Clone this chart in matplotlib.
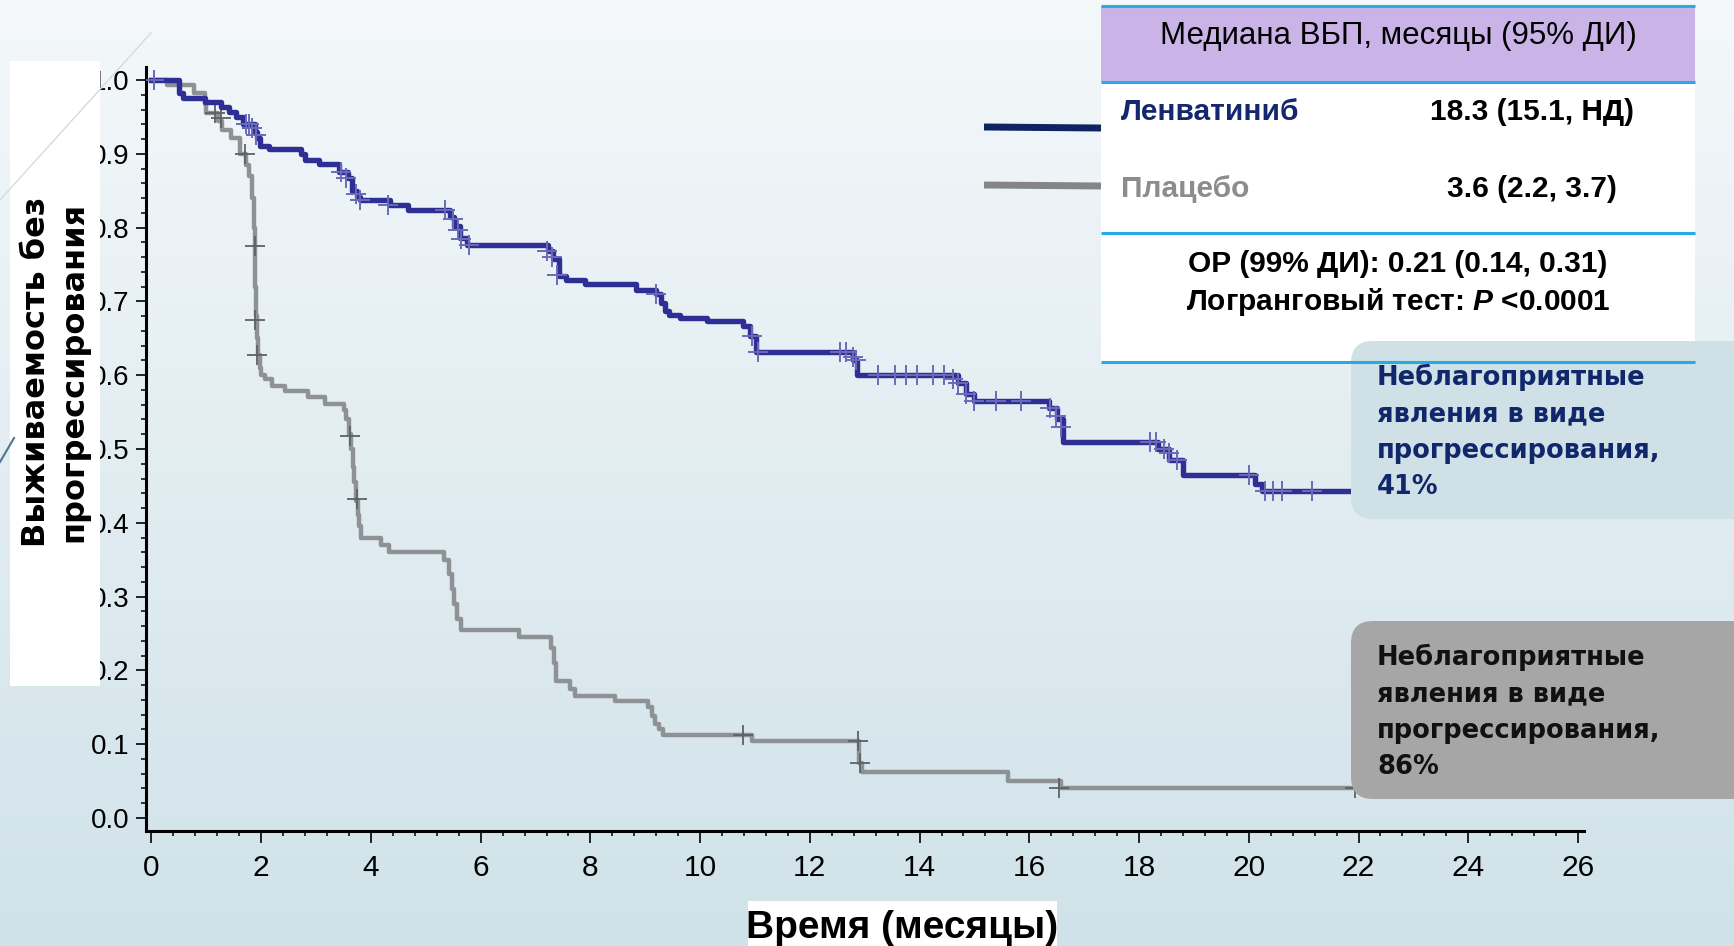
import matplotlib
matplotlib.use("Agg")
import matplotlib.pyplot as plt
import numpy as np
from matplotlib import font_manager
from matplotlib.patches import Rectangle, FancyBboxPatch
from matplotlib.ticker import MultipleLocator

# Kaplan-Meier steps (months, survival)
lenv_t = [0, 0.50, 0.58, 0.97, 1.26, 1.42, 1.54, 1.67, 1.88, 1.93, 1.97, 2.15, 2.72, 2.80,
          3.05, 3.42, 3.58, 3.66, 3.75, 3.80, 4.35, 4.68, 5.45, 5.52, 5.62, 5.75, 7.22,
          7.32, 7.42, 7.55, 7.90, 8.83, 9.20, 9.28, 9.36, 9.44, 9.64, 10.13, 10.78, 10.90,
          11.02, 12.78, 12.86, 14.70, 14.85, 15.00, 16.35, 16.50, 16.62, 18.35, 18.55,
          18.80, 20.12, 20.25, 22.40]
lenv_s = [1.0, 0.982, 0.975, 0.970, 0.964, 0.957, 0.950, 0.940, 0.930, 0.921, 0.910, 0.906,
          0.900, 0.892, 0.886, 0.876, 0.867, 0.850, 0.842, 0.837, 0.831, 0.824, 0.815,
          0.802, 0.786, 0.777, 0.768, 0.757, 0.734, 0.729, 0.724, 0.716, 0.710, 0.698,
          0.687, 0.682, 0.678, 0.673, 0.667, 0.653, 0.631, 0.620, 0.600, 0.590, 0.575,
          0.565, 0.555, 0.540, 0.510, 0.500, 0.485, 0.465, 0.452, 0.443, 0.443]

plac_t = [0, 0.28, 0.77, 0.97, 1.00, 1.22, 1.28, 1.45, 1.62, 1.72, 1.78, 1.83, 1.86, 1.88,
          1.895, 1.90, 1.92, 1.94, 1.97, 2.00, 2.07, 2.20, 2.44, 2.85, 3.17, 3.50, 3.55,
          3.60, 3.64, 3.67, 3.70, 3.73, 3.76, 3.78, 3.82, 4.19, 4.33, 5.34, 5.42, 5.47,
          5.52, 5.57, 5.65, 6.70, 7.28, 7.33, 7.38, 7.62, 7.72, 8.45, 9.05, 9.12, 9.18,
          9.25, 9.33, 10.95, 12.90, 12.95, 15.62, 16.58, 21.93]
plac_s = [1.0, 0.993, 0.982, 0.968, 0.955, 0.945, 0.932, 0.921, 0.900, 0.885, 0.870, 0.840,
          0.800, 0.760, 0.720, 0.680, 0.650, 0.627, 0.610, 0.600, 0.595, 0.586, 0.578,
          0.570, 0.561, 0.553, 0.540, 0.520, 0.500, 0.475, 0.455, 0.430, 0.410, 0.395,
          0.380, 0.370, 0.360, 0.350, 0.330, 0.310, 0.290, 0.270, 0.255, 0.245, 0.230,
          0.210, 0.185, 0.175, 0.165, 0.158, 0.150, 0.138, 0.128, 0.120, 0.112, 0.105,
          0.075, 0.062, 0.050, 0.040, 0.040]

# censored observations (+ marks)
lenv_cens_t = [0.04, 1.72, 1.78, 1.84, 1.90, 3.45, 3.55, 3.72, 3.80, 4.31, 5.35, 5.50, 5.58,
               5.65, 5.78, 7.20, 7.30, 7.40, 9.20, 10.95, 11.06, 12.55, 12.65, 12.78, 12.85,
               13.25, 13.55, 13.75, 13.95, 14.25, 14.45, 14.60, 14.70, 14.85, 15.00, 15.40,
               15.85, 16.38, 16.48, 16.58, 18.20, 18.30, 18.45, 18.55, 18.70, 20.00, 20.30,
               20.45, 20.60, 21.15]
lenv_cens_s = [1.0, 0.940, 0.940, 0.935, 0.925, 0.876, 0.867, 0.845, 0.837, 0.831, 0.824,
               0.812, 0.797, 0.785, 0.777, 0.768, 0.760, 0.736, 0.710, 0.653, 0.631, 0.631,
               0.631, 0.625, 0.620, 0.600, 0.600, 0.600, 0.600, 0.600, 0.600, 0.595, 0.590,
               0.575, 0.565, 0.565, 0.565, 0.555, 0.545, 0.530, 0.510, 0.510, 0.500, 0.495,
               0.485, 0.465, 0.443, 0.443, 0.443, 0.443]
plac_cens_t = [1.15, 1.26, 1.70, 1.88, 1.89, 1.93, 3.62, 3.74, 10.78, 12.88, 12.92, 16.55, 21.93]
plac_cens_s = [0.955, 0.948, 0.900, 0.775, 0.675, 0.627, 0.518, 0.432, 0.112, 0.105, 0.075,
               0.040, 0.040]

x_ticks = list(range(0, 27, 2))
y_ticks = [i / 10 for i in range(11)]
y_ticklabels = ["%.1f" % v for v in y_ticks]

table_header = "Медиана ВБП, месяцы (95% ДИ)"
arm_names = ["Ленватиниб", "Плацебо"]
arm_medians = ["18.3 (15.1, НД)", "3.6 (2.2, 3.7)"]
callout_lines = ["Неблагоприятные", "явления в виде", "прогрессирования,"]
callout_pcts = ["41%", "86%"]

BLUE = "#2e2f94"
BLUE_CENS = "#6a6ab8"
GRAY = "#8f9294"
GRAY_CENS = "#5e6166"

W, H = 1734, 946
names = {f.name for f in font_manager.fontManager.ttflist}
narrow = "Liberation Sans Narrow" if "Liberation Sans Narrow" in names else "Liberation Sans"

plt.rcParams["mathtext.fontset"] = "custom"
plt.rcParams["mathtext.it"] = "Liberation Sans:italic:bold"
plt.rcParams["mathtext.rm"] = "Liberation Sans:bold"

fig = plt.figure(figsize=(W / 100, H / 100), dpi=100)

# background gradient
bg = fig.add_axes([0, 0, 1, 1], zorder=-5)
grad = np.linspace(0, 1, 256)[:, None]
top_c = np.array([0xf4, 0xf8, 0xfa]) / 255
bot_c = np.array([0xd0, 0xe2, 0xe9]) / 255
img = top_c[None, None, :] * (1 - grad[..., None]) + bot_c[None, None, :] * grad[..., None]
bg.imshow(img, aspect="auto", extent=[0, 1, 0, 1])
bg.set_axis_off()

# main KM plot
ax = fig.add_axes([146 / W, 1 - 831 / H, (1584 - 146) / W, (831 - 67) / H])
ax.patch.set_alpha(0)
ax.step(plac_t, plac_s, where="post", color=GRAY, lw=3.2, zorder=2)
ax.plot(plac_cens_t, plac_cens_s, ls="none", marker="+", ms=15, mew=1.3, color=GRAY_CENS, zorder=3)
ax.step(lenv_t, lenv_s, where="post", color=BLUE, lw=3.9, zorder=4)
ax.plot(lenv_cens_t, lenv_cens_s, ls="none", marker="+", ms=15, mew=1.4, color=BLUE_CENS, zorder=5)

ax.set_xlim(-0.1, 26.11)
ax.set_ylim(-0.0176, 1.0176)
ax.set_xticks(x_ticks)
ax.set_yticks(y_ticks)
ax.set_yticklabels(y_ticklabels)
ax.xaxis.set_minor_locator(MultipleLocator(0.4))
ax.yaxis.set_minor_locator(MultipleLocator(0.02))
for s in ["top", "right"]:
    ax.spines[s].set_visible(False)
for s in ["left", "bottom"]:
    ax.spines[s].set_linewidth(2.2)
ax.tick_params(axis="y", which="major", length=7.5, width=1.2, pad=4.5, direction="out")
ax.tick_params(axis="x", which="major", length=8.5, width=1.2, pad=8, direction="out")
ax.tick_params(which="minor", length=3.8, width=1.1, direction="out")
for lab in ax.get_xticklabels():
    lab.set_fontfamily(narrow)
    lab.set_fontsize(21.5)
for lab in ax.get_yticklabels():
    lab.set_fontfamily(narrow)
    lab.set_fontsize(20)

# overlay in pixel coordinates for the slide decorations
ov = fig.add_axes([0, 0, 1, 1], zorder=10)
ov.set_xlim(0, W)
ov.set_ylim(H, 0)
ov.set_axis_off()
ov.patch.set_alpha(0)

ov.plot([151, 0], [33, 200], color="#d3dce1", lw=1)
ov.plot([0, 14], [462, 438], color="#4f7590", lw=1.5)

# y label on white panel (covers the left part of the tick labels, as in the slide)
ov.add_patch(Rectangle((10, 61), 90, 625, facecolor="white", edgecolor="none"))
ylab = ["Выживаемость без", "прогрессирования"]
for xb, txt in zip([45, 82], ylab):
    ov.text(xb, 372, txt, rotation=90, rotation_mode="anchor", ha="center", va="baseline",
            fontsize=23, fontweight="bold", family="DejaVu Sans", color="black")

# x label on white panel
ov.add_patch(Rectangle((748, 901), 309, 60, facecolor="white", edgecolor="none"))
ov.text(902, 938, "Время (месяцы)", ha="center", va="baseline", fontsize=28,
        fontweight="bold", family=narrow, color="black")

# table box
LINE = "#29abe2"
ov.add_patch(Rectangle((1101, 6), 594, 356, facecolor="white", edgecolor="none"))
ov.add_patch(Rectangle((1101, 6), 594, 76, facecolor="#c9b3e7", edgecolor="none"))
for yl in [6, 82, 233, 362]:
    ov.plot([1101, 1695], [yl, yl], color=LINE, lw=2.2, solid_capstyle="butt")
ov.text(1398, 44, table_header, ha="center", va="baseline", fontsize=22.5, family=narrow)
ov.plot([984, 1101], [127, 128], color="#0e2462", lw=5, solid_capstyle="butt")
ov.plot([984, 1101], [185, 186], color="#858585", lw=5, solid_capstyle="butt")
for yb, nm, med, col in zip([120, 197], arm_names, arm_medians, ["#13286e", "#8c8c8c"]):
    ov.text(1121, yb, nm, ha="left", va="baseline", fontsize=21.5, fontweight="bold",
            family=narrow, color=col)
    ov.text(1532, yb, med, ha="center", va="baseline", fontsize=21.5, fontweight="bold",
            family=narrow, color="black")
ov.text(1398, 272, "ОР (99% ДИ): 0.21 (0.14, 0.31)", ha="center", va="baseline",
        fontsize=21.5, fontweight="bold", family=narrow)
ov.text(1398, 310, "Логранговый тест: $P$ <0.0001", ha="center", va="baseline",
        fontsize=21.5, fontweight="bold", family=narrow)

# callout boxes
boxes = [(341, "#cfe0e6", "#10286b"), (621, "#a6a6a6", "#111111")]
for (ytop, fc, tc), pct in zip(boxes, callout_pcts):
    ov.add_patch(FancyBboxPatch((1351, ytop), 420, 178,
                                boxstyle="round,pad=0,rounding_size=22",
                                facecolor=fc, edgecolor="none"))
    for k, line in enumerate(callout_lines + [pct]):
        ov.text(1377, ytop + 44 + 36.3 * k, line, ha="left", va="baseline", fontsize=18.5,
                fontweight="bold", family="DejaVu Sans", color=tc)

fig.savefig("out.png", dpi=100)
